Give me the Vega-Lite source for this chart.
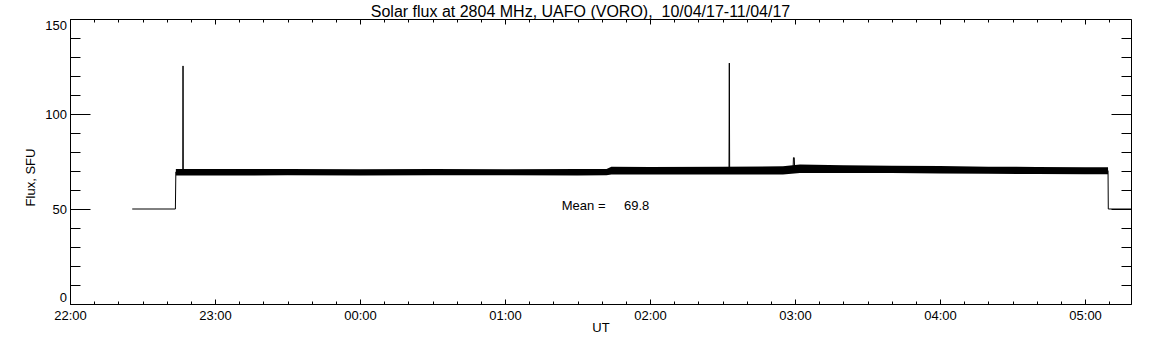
{
  "$schema": "https://vega.github.io/schema/vega-lite/v6.json",
  "width": 1061,
  "height": 285,
  "autosize": {"type": "none"},
  "padding": {"left": 70, "top": 19, "right": 21, "bottom": 41},
  "background": "white",
  "title": {
    "text": "Solar flux at 2804 MHz, UAFO (VORO),\u00a0 10/04/17-11/04/17",
    "fontSize": 16, "font": "Liberation Sans", "fontWeight": "normal", "color": "black",
    "anchor": "middle", "dx": -20, "offset": -1
  },
  "config": {
    "view": {"stroke": null},
    "axis": {
      "domainColor": "black", "tickColor": "black", "labelColor": "black", "titleColor": "black",
      "labelFont": "Liberation Sans", "titleFont": "Liberation Sans", "labelFontSize": 13, "titleFontSize": 13,
      "titleFontWeight": "normal", "grid": false, "tickWidth": 1, "domainWidth": 1
    }
  },
  "datasets": {
    "line": [
      {"t": "2017-04-10T22:25:45Z", "flux": 50},
      {"t": "2017-04-10T22:43:36Z", "flux": 50},
      {"t": "2017-04-10T22:43:48Z", "flux": 69.5},
      {"t": "2017-04-10T22:46:40Z", "flux": 69.4},
      {"t": "2017-04-10T22:46:46Z", "flux": 125.3},
      {"t": "2017-04-10T22:46:52Z", "flux": 69.4},
      {"t": "2017-04-11T00:00:00Z", "flux": 69.3},
      {"t": "2017-04-11T01:42:00Z", "flux": 69.4},
      {"t": "2017-04-11T01:44:00Z", "flux": 70.1},
      {"t": "2017-04-11T02:32:40Z", "flux": 70.2},
      {"t": "2017-04-11T02:32:48Z", "flux": 126.8},
      {"t": "2017-04-11T02:32:56Z", "flux": 70.2},
      {"t": "2017-04-11T02:59:10Z", "flux": 70.4},
      {"t": "2017-04-11T02:59:20Z", "flux": 77.0},
      {"t": "2017-04-11T02:59:40Z", "flux": 77.0},
      {"t": "2017-04-11T02:59:50Z", "flux": 71.0},
      {"t": "2017-04-11T03:20:00Z", "flux": 71.0},
      {"t": "2017-04-11T05:09:30Z", "flux": 70.2},
      {"t": "2017-04-11T05:09:36Z", "flux": 50},
      {"t": "2017-04-11T05:19:00Z", "flux": 50}
    ],
    "band": [
      {"t": "2017-04-10T22:43:48Z", "lo": 67.6, "hi": 71.1},
      {"t": "2017-04-10T23:00:00Z", "lo": 67.6, "hi": 71.1},
      {"t": "2017-04-10T23:30:00Z", "lo": 67.7, "hi": 71.0},
      {"t": "2017-04-11T00:00:00Z", "lo": 67.6, "hi": 70.9},
      {"t": "2017-04-11T00:30:00Z", "lo": 67.7, "hi": 71.0},
      {"t": "2017-04-11T01:00:00Z", "lo": 67.8, "hi": 70.9},
      {"t": "2017-04-11T01:30:00Z", "lo": 67.6, "hi": 71.0},
      {"t": "2017-04-11T01:42:00Z", "lo": 67.7, "hi": 71.1},
      {"t": "2017-04-11T01:44:00Z", "lo": 68.1, "hi": 72.2},
      {"t": "2017-04-11T02:00:00Z", "lo": 68.1, "hi": 72.1},
      {"t": "2017-04-11T02:30:00Z", "lo": 68.1, "hi": 72.2},
      {"t": "2017-04-11T02:55:00Z", "lo": 68.1, "hi": 72.5},
      {"t": "2017-04-11T03:02:00Z", "lo": 68.9, "hi": 73.4},
      {"t": "2017-04-11T03:20:00Z", "lo": 69.0, "hi": 73.0},
      {"t": "2017-04-11T03:40:00Z", "lo": 68.9, "hi": 72.8},
      {"t": "2017-04-11T04:00:00Z", "lo": 68.7, "hi": 72.6},
      {"t": "2017-04-11T04:20:00Z", "lo": 68.5, "hi": 72.3},
      {"t": "2017-04-11T04:40:00Z", "lo": 68.4, "hi": 72.1},
      {"t": "2017-04-11T05:00:00Z", "lo": 68.3, "hi": 72.0},
      {"t": "2017-04-11T05:09:30Z", "lo": 68.3, "hi": 72.0}
    ],
    "mean": [
      {"t": "2017-04-11T01:23:28Z", "flux": 51.6, "label": "Mean ="},
      {"t": "2017-04-11T01:49:14Z", "flux": 51.6, "label": "69.8"}
    ]
  },
  "resolve": {"axis": {"x": "independent", "y": "independent"}},
  "layer": [
    {
      "data": {"name": "band"},
      "mark": {"type": "area", "color": "black"},
      "encoding": {
        "x": {
          "field": "t", "type": "temporal",
          "scale": {"type": "utc", "domain": [1491861600000, 1491887940000]},
          "axis": {"orient": "bottom",
                   "values": [1491861600000, 1491865200000, 1491868800000, 1491872400000, 1491876000000, 1491879600000, 1491883200000, 1491886800000],
                   "tickSize": -5, "labelPadding": 10,
                   "format": "%H:%M", "labelFlush": false, "labelOverlap": false,
                   "title": "UT", "titleBaseline": "top", "titleY": 17}
        },
        "y": {
          "field": "lo", "type": "quantitative",
          "scale": {"domain": [0, 150], "nice": false, "zero": false},
          "axis": {"orient": "left", "values": [0, 50, 100, 150], "tickSize": -20, "labelPadding": 23.5, "labelFlush": true,
                   "title": "Flux, SFU", "titleX": -33, "titleY": 158}
        },
        "y2": {"field": "hi"}
      }
    },
    {
      "data": {"name": "line"},
      "mark": {"type": "line", "color": "black", "strokeWidth": 1},
      "encoding": {
        "x": {
          "field": "t", "type": "temporal",
          "axis": {"orient": "bottom",
                   "values": [1491861600000, 1491862200000, 1491862800000, 1491863400000, 1491864000000, 1491864600000, 1491865200000, 1491865800000, 1491866400000, 1491867000000, 1491867600000, 1491868200000, 1491868800000, 1491869400000, 1491870000000, 1491870600000, 1491871200000, 1491871800000, 1491872400000, 1491873000000, 1491873600000, 1491874200000, 1491874800000, 1491875400000, 1491876000000, 1491876600000, 1491877200000, 1491877800000, 1491878400000, 1491879000000, 1491879600000, 1491880200000, 1491880800000, 1491881400000, 1491882000000, 1491882600000, 1491883200000, 1491883800000, 1491884400000, 1491885000000, 1491885600000, 1491886200000, 1491886800000, 1491887400000],
                   "tickSize": -3, "labels": false, "domain": false, "title": null}
        },
        "y": {
          "field": "flux", "type": "quantitative",
          "axis": {"orient": "left", "values": [10, 20, 30, 40, 60, 70, 80, 90, 110, 120, 130, 140], "tickSize": -10, "labels": false, "domain": false, "title": null}
        }
      }
    },
    {
      "data": {"name": "mean"},
      "mark": {"type": "text", "align": "left", "baseline": "middle", "font": "Liberation Sans", "fontSize": 13, "color": "black"},
      "encoding": {
        "x": {
          "field": "t", "type": "temporal",
          "axis": {"orient": "top",
                   "values": [1491861600000, 1491865200000, 1491868800000, 1491872400000, 1491876000000, 1491879600000, 1491883200000, 1491886800000],
                   "tickSize": -5, "labels": false, "domain": true, "title": null}
        },
        "y": {
          "field": "flux", "type": "quantitative",
          "axis": {"orient": "right", "values": [0, 50, 100, 150], "tickSize": -20, "labels": false, "domain": true, "title": null}
        },
        "text": {"field": "label"}
      }
    },
    {
      "data": {"name": "mean"},
      "mark": {"type": "point", "opacity": 0},
      "encoding": {
        "x": {
          "field": "t", "type": "temporal",
          "axis": {"orient": "top",
                   "values": [1491861600000, 1491862200000, 1491862800000, 1491863400000, 1491864000000, 1491864600000, 1491865200000, 1491865800000, 1491866400000, 1491867000000, 1491867600000, 1491868200000, 1491868800000, 1491869400000, 1491870000000, 1491870600000, 1491871200000, 1491871800000, 1491872400000, 1491873000000, 1491873600000, 1491874200000, 1491874800000, 1491875400000, 1491876000000, 1491876600000, 1491877200000, 1491877800000, 1491878400000, 1491879000000, 1491879600000, 1491880200000, 1491880800000, 1491881400000, 1491882000000, 1491882600000, 1491883200000, 1491883800000, 1491884400000, 1491885000000, 1491885600000, 1491886200000, 1491886800000, 1491887400000],
                   "tickSize": -3, "labels": false, "domain": false, "title": null}
        },
        "y": {
          "field": "flux", "type": "quantitative",
          "axis": {"orient": "right", "values": [10, 20, 30, 40, 60, 70, 80, 90, 110, 120, 130, 140], "tickSize": -10, "labels": false, "domain": false, "title": null}
        }
      }
    }
  ]
}
